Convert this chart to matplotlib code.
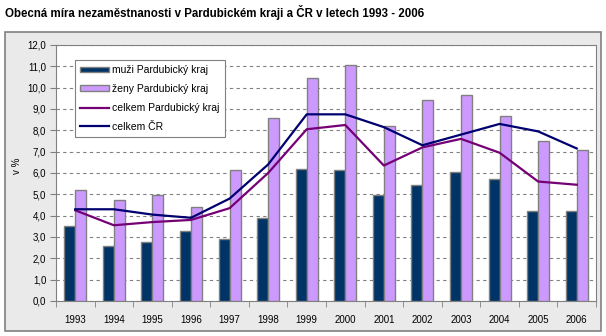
import numpy as np
import matplotlib.pyplot as plt
from matplotlib.patches import Rectangle
from matplotlib.ticker import FuncFormatter, MultipleLocator

roky = ['1993', '1994', '1995', '1996', '1997', '1998', '1999',
        '2000', '2001', '2002', '2003', '2004', '2005', '2006']
muzi_pk = [3.5, 2.6, 2.75, 3.3, 2.9, 3.9, 6.2, 6.15, 4.95, 5.45, 6.05, 5.7, 4.2, 4.2]
zeny_pk = [5.2, 4.75, 4.95, 4.4, 6.15, 8.6, 10.45, 11.05, 8.2, 9.4, 9.65, 8.65, 7.5, 7.1]
celkem_pk = [4.25, 3.55, 3.7, 3.8, 4.35, 6.0, 8.05, 8.25, 6.35, 7.2, 7.6, 6.95, 5.6, 5.45]
celkem_cr = [4.3, 4.3, 4.05, 3.9, 4.8, 6.4, 8.75, 8.75, 8.15, 7.3, 7.8, 8.3, 7.95, 7.15]

plt.rcParams['font.family'] = ['Liberation Sans', 'DejaVu Sans']

fig = plt.figure(figsize=(6.06, 3.36), dpi=100)

# chart area background
fig.patches.append(Rectangle((5 / 606, 5 / 336), 596 / 606, 299 / 336,
                             transform=fig.transFigure, facecolor='#EAEAEA',
                             edgecolor='#808080', linewidth=1.2, zorder=-5))

fig.text(5 / 606, 1 - 12 / 336, 'Obecná míra nezaměstnanosti v Pardubickém kraji a ČR v letech 1993 - 2006',
         fontsize=8.3, fontweight='bold', va='center', ha='left')

ax = fig.add_axes([56 / 606, 35 / 336, 540 / 606, 256 / 336], zorder=2)
ax.set_facecolor('white')

x = np.arange(len(roky))
w = 0.285
b1 = ax.bar(x - w / 2, muzi_pk, w, color='#003366', edgecolor='#808080', linewidth=1,
            label='muži Pardubický kraj', zorder=3)
b2 = ax.bar(x + w / 2, zeny_pk, w, color='#CC99FF', edgecolor='#808080', linewidth=1,
            label='ženy Pardubický kraj', zorder=3)
l1, = ax.plot(x, celkem_pk, color='#750075', linewidth=1.6, label='celkem Pardubický kraj', zorder=4)
l2, = ax.plot(x, celkem_cr, color='#000070', linewidth=1.6, label='celkem ČR', zorder=4)

ax.set_xlim(-0.5, len(roky) - 0.5)
ax.set_ylim(0, 12)
ax.yaxis.set_major_locator(MultipleLocator(1))
ax.yaxis.set_major_formatter(FuncFormatter(lambda v, p: f'{v:.1f}'.replace('.', ',')))
ax.grid(axis='y', color='#808080', linestyle=(0, (3, 3)), linewidth=0.8, zorder=1)

ax.set_xticks(x)
ax.set_xticklabels(roky)
ax.set_xticks(np.arange(-0.5, len(roky)), minor=True)
ax.tick_params(axis='x', which='major', length=0, pad=10, labelsize=7)
ax.tick_params(axis='x', which='minor', length=4, color='#808080')
ax.tick_params(axis='y', length=4, color='#808080', labelsize=7, pad=3)

for s in ax.spines.values():
    s.set_color('#808080')

ax.set_ylabel('v %', fontsize=7)
ax.yaxis.set_label_coords(-34 / 540, 0.53)

leg = ax.legend([b1, b2, l1, l2],
                ['muži Pardubický kraj', 'ženy Pardubický kraj', 'celkem Pardubický kraj', 'celkem ČR'],
                loc='upper left', bbox_to_anchor=(19 / 540, 1 - 15 / 256), fontsize=7.5,
                frameon=True, fancybox=False, edgecolor='#808080', framealpha=1,
                handlelength=2.8, handleheight=0.5, borderpad=0.5, labelspacing=0.85,
                handletextpad=0.3, borderaxespad=0)
leg.get_frame().set_linewidth(0.8)

fig.savefig('out.png', dpi=100)
